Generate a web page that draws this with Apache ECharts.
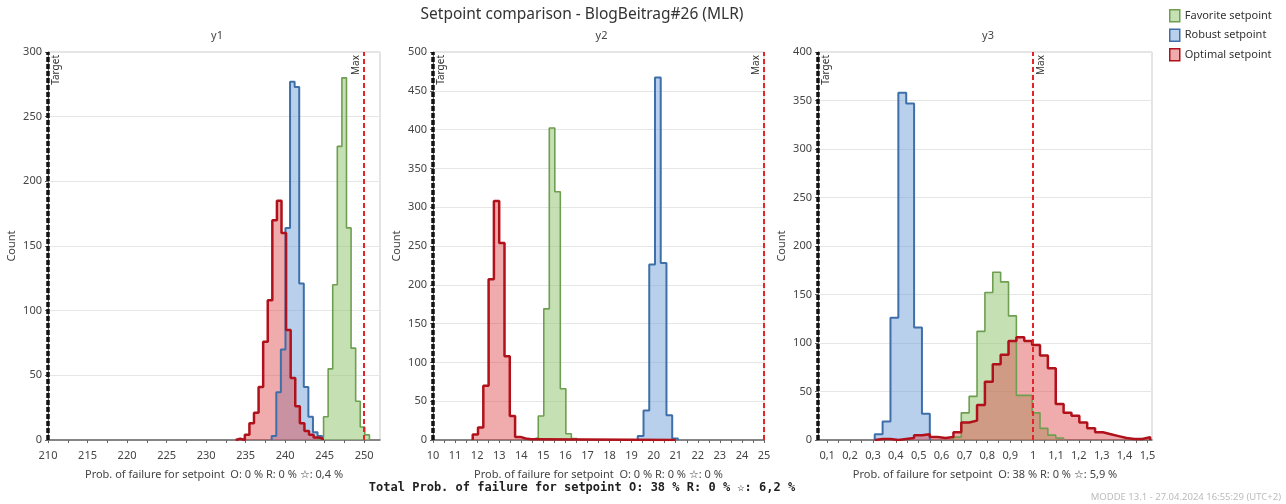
<!DOCTYPE html>
<html>
<head>
<meta charset="utf-8">
<script src="https://cdn.jsdelivr.net/npm/echarts@6/dist/echarts.min.js"></script>
<style>
  html, body { margin: 0; padding: 0; background: #fff; }
  #main { width: 1286px; height: 504px; }
</style>
</head>
<body>
<div id="main"></div>
<script>
const seriesNames = ["Favorite setpoint", "Robust setpoint", "Optimal setpoint"];
const panelTitles = ["y1", "y2", "y3"];
const failTexts = [
  "Prob. of failure for setpoint  O: 0 % R: 0 % \u2606: 0,4 %",
  "Prob. of failure for setpoint  O: 0 % R: 0 % \u2606: 0 %",
  "Prob. of failure for setpoint  O: 38 % R: 0 % \u2606: 5,9 %",
];
const totalText = "Total Prob. of failure for setpoint O: 38 % R: 0 % \u2606: 6,2 %";

// y1 histograms (bin start, bin width, counts)
const y1Width = 0.58;
const y1FavStart = 244.28;
const y1FavCounts = [2, 18, 55, 120, 227, 280, 164, 71, 30, 10, 4];
const y1RobStart = 238.3;
const y1RobCounts = [3, 37, 70, 164, 277, 273, 121, 41, 18, 6, 3];
const y1OptStart = 233.74;
const y1OptCounts = [1, 0, 4, 13, 21, 41, 76, 108, 170, 185, 160, 85, 48, 26, 13, 7, 4, 2, 1];

// y2 histograms
const y2FavStart = 14.27, y2FavWidth = 0.25;
const y2FavCounts = [1, 3, 31, 169, 402, 320, 66, 8, 2];
const y2RobStart = 19.28, y2RobWidth = 0.26;
const y2RobCounts = [5, 38, 226, 467, 228, 32, 2];
const y2OptStart = 11.8, y2OptWidth = 0.24;
const y2OptCounts = [7, 16, 70, 207, 308, 254, 108, 31, 4, 2, 1, 1];
const y2OptTailEnd = 21;

// y3 histograms
const y3Width = 0.0344;
const y3FavStart = 0.652;
const y3FavCounts = [3, 28, 45, 112, 152, 173, 163, 128, 46, 46, 28, 12, 5, 2];
const y3RobStart = 0.308;
const y3RobCounts = [6, 19, 126, 358, 347, 116, 27];
const y3OptStart = 0.308;
const y3OptCounts = [1, 1, 0, 1, 2, 5, 6, 3, 2, 3, 8, 18, 20, 36, 60, 78, 88, 102, 106,
  102, 98, 87, 74, 37, 28, 25, 18, 12, 8, 6, 4, 2, 1, 1, 3];

// axes
const xRanges = [[210, 252], [10, 25], [0.06, 1.52]];
const yMaxes = [300, 500, 400];
const targets = [210, 10, 0.06];
const maxLimits = [250, 25, 1];
const y1Labels = [210, 215, 220, 225, 230, 235, 240, 245, 250];
const y1Ticks = [210, 212.5, 215, 217.5, 220, 222.5, 225, 227.5, 230, 232.5, 235, 237.5, 240, 242.5, 245, 247.5, 250];
const y2Labels = [10, 11, 12, 13, 14, 15, 16, 17, 18, 19, 20, 21, 22, 23, 24, 25];
const y2Ticks = [10, 10.5, 11, 11.5, 12, 12.5, 13, 13.5, 14, 14.5, 15, 15.5, 16, 16.5, 17, 17.5, 18, 18.5,
  19, 19.5, 20, 20.5, 21, 21.5, 22, 22.5, 23, 23.5, 24, 24.5, 25];
const y3Labels = [0.1, 0.2, 0.3, 0.4, 0.5, 0.6, 0.7, 0.8, 0.9, 1, 1.1, 1.2, 1.3, 1.4, 1.5];
const y3Ticks = [0.1, 0.15, 0.2, 0.25, 0.3, 0.35, 0.4, 0.45, 0.5, 0.55, 0.6, 0.65, 0.7, 0.75, 0.8, 0.85,
  0.9, 0.95, 1, 1.05, 1.1, 1.15, 1.2, 1.25, 1.3, 1.35, 1.4, 1.45, 1.5];

const lineColors = ["#6e9e50", "#3f6fa9", "#b0111a"];
const fillColors = ["rgba(150,200,118,0.55)", "rgba(118,164,216,0.52)", "rgba(222,70,74,0.45)"];
const lineWidths = [1.6, 2, 2.5];

function steps(start, width, counts, tailEnd) {
  let pts = [[start, 0]];
  counts.forEach((c, i) => pts.push([start + i * width, c]));
  pts.push([start + counts.length * width, 0]);
  if (tailEnd) pts.push([tailEnd, 0]);
  return pts;
}

const panelData = [
  [steps(y1FavStart, y1Width, y1FavCounts), steps(y1RobStart, y1Width, y1RobCounts), steps(y1OptStart, y1Width, y1OptCounts)],
  [steps(y2FavStart, y2FavWidth, y2FavCounts), steps(y2RobStart, y2RobWidth, y2RobCounts), steps(y2OptStart, y2OptWidth, y2OptCounts, y2OptTailEnd)],
  [steps(y3FavStart, y3Width, y3FavCounts), steps(y3RobStart, y3Width, y3RobCounts), steps(y3OptStart, y3Width, y3OptCounts)],
];
const xLabels = [y1Labels, y2Labels, y3Labels];
const xTicks = [y1Ticks, y2Ticks, y3Ticks];
const maxLabelPos = ["insideEndTop", "insideEndTop", "insideEndBottom"];

const gridBoxes = [
  { left: 48, top: 52, width: 332, height: 388 },
  { left: 433, top: 52, width: 331, height: 388 },
  { left: 818, top: 52, width: 334, height: 388 },
];

const font = "Noto Sans";
let element = document.getElementById("main");
let myChart = echarts.init(element);

let grids = [], xAxes = [], yAxes = [], series = [];
gridBoxes.forEach((g, p) => {
  grids.push(Object.assign({ show: true, borderColor: "#c9c9c9", borderWidth: 1, backgroundColor: "#fff" }, g));
  xAxes.push({
    type: "value",
    gridIndex: p,
    min: xRanges[p][0],
    max: xRanges[p][1],
    name: failTexts[p],
    nameLocation: "middle",
    nameGap: 29,
    nameTextStyle: { color: "#444", fontSize: 11, fontFamily: font },
    axisLine: { onZero: false, lineStyle: { color: "#666", width: 1.5 } },
    axisTick: { customValues: xTicks[p], length: 3, lineStyle: { color: "#666" } },
    axisLabel: {
      customValues: xLabels[p],
      color: "#444",
      fontSize: 11,
      fontFamily: font,
      margin: 10,
      formatter: (v) => String(+(+v).toFixed(2)).replace(".", ","),
    },
    splitLine: { show: false },
  });
  yAxes.push({
    type: "value",
    gridIndex: p,
    min: 0,
    max: yMaxes[p],
    interval: 50,
    name: "Count",
    nameLocation: "middle",
    nameGap: 31,
    nameTextStyle: { color: "#444", fontSize: 11, fontFamily: font },
    axisLine: { show: true, lineStyle: { color: "#666" } },
    axisTick: { show: true, length: 3, lineStyle: { color: "#666" } },
    axisLabel: { color: "#444", fontSize: 11, fontFamily: font, margin: 6 },
    splitLine: { show: true, lineStyle: { color: "#e6e6e6", width: 1 } },
  });
  panelData[p].forEach((pts, s) => {
    let ser = {
      name: seriesNames[s],
      type: "line",
      xAxisIndex: p,
      yAxisIndex: p,
      step: "end",
      symbol: "none",
      animation: false,
      data: pts,
      lineStyle: { color: lineColors[s], width: lineWidths[s] },
      itemStyle: { color: lineColors[s] },
      areaStyle: { color: fillColors[s], opacity: 1 },
    };
    if (s === 2) {
      ser.markLine = {
        silent: true,
        symbol: "none",
        animation: false,
        label: { fontSize: 10, color: "#333", fontFamily: font, distance: 3 },
        data: [
          {
            xAxis: targets[p],
            lineStyle: { color: "#111", type: [5, 2], width: 3.5 },
            label: { formatter: "Target", position: "insideEndBottom" },
          },
          {
            xAxis: maxLimits[p],
            lineStyle: { color: "#e3242b", type: [5, 3], width: 2 },
            label: { formatter: "Max", position: maxLabelPos[p] },
          },
        ],
      };
    }
    series.push(ser);
  });
});

let option = {
  backgroundColor: "#fff",
  textStyle: { fontFamily: font },
  grid: grids,
  xAxis: xAxes,
  yAxis: yAxes,
  series: series,
  legend: {
    orient: "vertical",
    left: 1164,
    top: 4,
    icon: "rect",
    itemWidth: 10,
    itemHeight: 12,
    itemGap: 6,
    textStyle: { fontSize: 11, color: "#333", fontFamily: font },
    data: seriesNames.map((n, i) => ({
      name: n,
      itemStyle: { color: fillColors[i], borderColor: lineColors[i], borderWidth: 1.5 },
    })),
  },
  graphic: [
    {
      type: "text", x: 582, y: 7,
      style: { text: "Setpoint comparison - BlogBeitrag#26 (MLR)", fontSize: 15.5, fill: "#333", fontFamily: font, align: "center" },
    },
    ...panelTitles.map((t, p) => ({
      type: "text",
      x: gridBoxes[p].left + gridBoxes[p].width / 2 + 3,
      y: 30,
      style: { text: t, fontSize: 11, fill: "#444", fontFamily: font, align: "center" },
    })),
    {
      type: "text", x: 582, y: 482,
      style: { text: totalText, fontSize: 12, fontWeight: "bold", fill: "#222", fontFamily: "DejaVu Sans Mono", align: "center" },
    },
    {
      type: "text", x: 1281, y: 492,
      style: { text: "MODDE 13.1 - 27.04.2024 16:55:29 (UTC+2)", fontSize: 9.5, fill: "#bbb", fontFamily: font, align: "right" },
    },
  ],
};
myChart.setOption(option);
</script>
</body>
</html>
